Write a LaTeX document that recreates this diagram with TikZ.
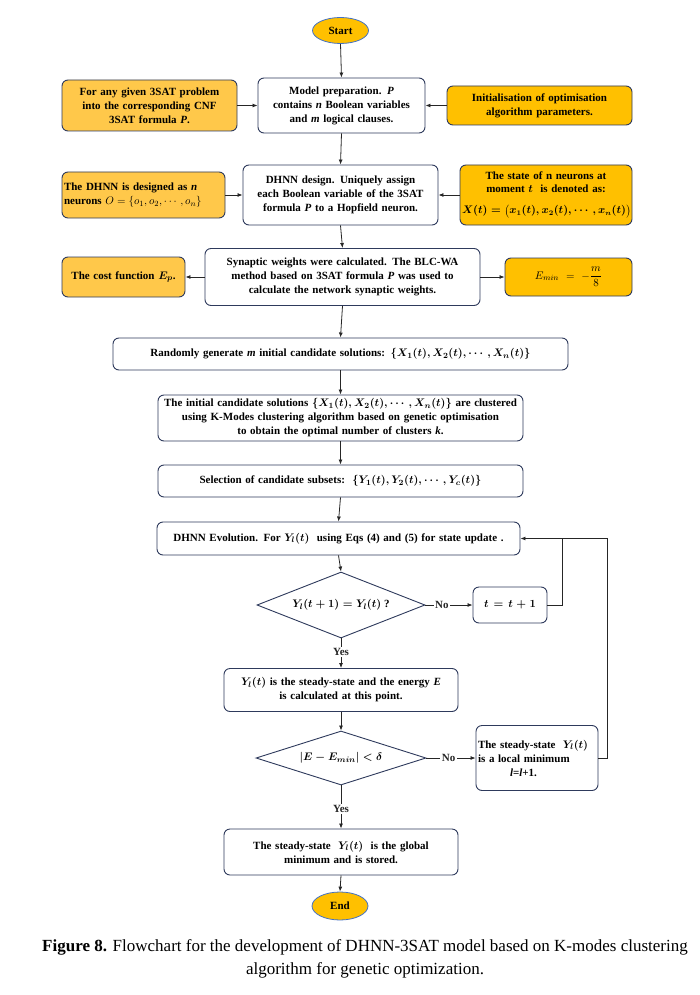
\documentclass[tikz,border=0pt]{standalone}
\usepackage{amsmath,bm}
\usepackage{fontspec}
\setmainfont{Liberation Serif}
\usetikzlibrary{shapes.geometric,arrows.meta}
\definecolor{navy}{HTML}{2E3A5C}
\definecolor{gold}{HTML}{FFC000}
\definecolor{orangeL}{HTML}{FFC84A}
\definecolor{blueL}{HTML}{4472C4}
\tikzset{
  base/.style={draw=navy, line width=0.9pt, rounded corners=6pt, align=center, inner sep=2pt,
    font=\fontsize{11}{14}\selectfont\bfseries\boldmath},
  plainmath/.style={font=\fontsize{11}{14}\selectfont\bfseries},
  wbox/.style={base, fill=white},
  obox/.style={base, fill=orangeL},
  gbox/.style={base, fill=gold},
  term/.style={ellipse, draw=blueL, line width=0.8pt, fill=gold, inner sep=0pt,
    font=\fontsize{11}{14}\selectfont\bfseries},
  dia/.style={diamond, draw=navy, line width=0.9pt, inner sep=0pt, fill=white,
    font=\fontsize{11}{14}\selectfont\bfseries\boldmath},
  arr/.style={-{Latex[length=5pt,width=4pt]}, line width=0.8pt, black!85},
  lnk/.style={line width=0.8pt, black!85},
  lab/.style={fill=white, inner sep=1.5pt, font=\fontsize{11}{14}\selectfont\bfseries}
}
\begin{document}
\begin{tikzpicture}[x=1pt,y=-1pt]
\useasboundingbox (0,0) rectangle (700,995);
% terminals
\node[term, minimum width=56pt, minimum height=26pt] (start) at (340.5,30.5) {Start};
% row 1
\node[wbox, text width=163pt, minimum height=55pt] (model) at (341.5,105.5)
  {Model preparation. \textit{P}\\ contains \textit{n} Boolean variables\\ and \textit{m} logical clauses.};
\node[obox, text width=171pt, minimum height=51pt] (for) at (149.5,105.5)
  {For any given 3SAT problem\\ into the corresponding CNF\\ 3SAT formula \textit{P}.};
\node[gbox, text width=181pt, minimum height=39pt] (init) at (539.5,105.5)
  {Initialisation of optimisation\\ algorithm parameters.};
% row 2
\node[wbox, text width=191pt, minimum height=60pt] (dhnn) at (340.5,195)
  {DHNN design. Uniquely assign\\ each Boolean variable of the 3SAT\\ formula \textit{P} to a Hopfield neuron.};
\node[obox, plainmath, text width=159pt, minimum height=46pt, align=left] (dleft) at (143.5,195)
  {The DHNN is designed as \textit{n}\\ neurons $O=\{o_1,o_2,\cdots,o_n\}$};
\node[gbox, text width=168pt, minimum height=60pt, inner ysep=1pt,
  font=\fontsize{11}{13}\selectfont\bfseries\boldmath] (dright) at (546,195)
  {The state of n neurons at\\ moment $t$\ \ is denoted as:\\[8pt]
   \mbox{\fontsize{10.5}{12}\selectfont$X(t)=\bigl(x_1(t),x_2(t),\cdots,x_n(t)\bigr)$}};
% row 3
\node[wbox, text width=271pt, minimum height=57pt] (syn) at (342.5,277)
  {Synaptic weights were calculated. The BLC-WA\\ method based on 3SAT formula \textit{P} was used to\\ calculate the network synaptic weights.};
\node[obox, text width=119pt, minimum height=40pt] (cost) at (123.5,277)
  {The cost function $E_p$.};
\node[gbox, plainmath, text width=123pt, minimum height=38pt] (emin) at (568.5,277)
  {$\displaystyle E_{min}=-\frac{m}{8}$};
% main column
\node[wbox, text width=451pt, minimum height=32pt] (rand) at (340.5,354)
  {Randomly generate \textit{m} initial candidate solutions: $\{X_1(t),X_2(t),\cdots,X_n(t)\}$};
\node[wbox, text width=361pt, minimum height=46pt] (icand) at (340.5,418)
  {The initial candidate solutions $\{X_1(t),X_2(t),\cdots,X_n(t)\}$ are clustered\\ using K-Modes clustering algorithm based on genetic optimisation\\ to obtain the optimal number of clusters \textit{k}.};
\node[wbox, text width=361pt, minimum height=32pt] (sel) at (340.5,481)
  {Selection of candidate subsets:\ \ $\{Y_1(t),Y_2(t),\cdots,Y_c(t)\}$};
\node[wbox, text width=359pt, minimum height=33pt] (evo) at (338.5,538.5)
  {DHNN Evolution. For $Y_l(t)$\ \ using Eqs (4) and (5) for state update .};
\node[dia, minimum width=168pt, minimum height=66pt, aspect=2.5] (d1) at (341,605)
  {$Y_l(t+1)=Y_l(t)$ ?};
\node[wbox, text width=70pt, minimum height=36pt] (tbox) at (510,605) {$t=t+1$};
\node[wbox, text width=230pt, minimum height=43pt] (ss) at (341,690)
  {$Y_l(t)$ is the steady-state and the energy \textit{E}\\ is calculated at this point.};
\node[dia, minimum width=170pt, minimum height=54pt, aspect=3.1] (d2) at (341,758)
  {$|E-E_{min}|<\delta$};
\node[wbox, text width=118pt, minimum height=65pt, align=left] (local) at (537,758)
  {The steady-state\ \ $Y_l(t)$\\ is a local minimum\\ \hspace*{32pt}\textit{l}=\textit{l}+1.};
\node[wbox, text width=230pt, minimum height=46pt] (glob) at (341,852)
  {The steady-state\ \ $Y_l(t)$\ \ is the global\\ minimum and is stored.};
\node[term, minimum width=56pt, minimum height=28pt] (end) at (340,906) {End};
% caption
\node[align=center, font=\fontsize{17}{23}\selectfont] (cap) at (365,958.5)
  {\textbf{Figure 8.} Flowchart for the development of DHNN-3SAT model based on K-modes clustering\\ algorithm for genetic optimization.};
% joints
\coordinate (j1) at (562,538.5);
\coordinate (j2) at (607,758);
% connectors
\draw[arr] (start.south) -- (model.north);
\draw[arr] (for.east) -- (model.west);
\draw[arr] (init.west) -- (model.east);
\draw[arr] (model.south) -- (dhnn.north);
\draw[arr] (dleft.east) -- (dhnn.west);
\draw[arr] (dright.west) -- (dhnn.east);
\draw[arr] (dhnn.south) -- (syn.north);
\draw[arr] (syn.west) -- (cost.east);
\draw[arr] (syn.east) -- (emin.west);
\draw[arr] (syn.south) -- (rand.north);
\draw[arr] (rand.south) -- (icand.north);
\draw[arr] (icand.south) -- (sel.north);
\draw[arr] (sel.south) -- (evo.north);
\draw[arr] (evo.south) -- (d1.north);
\draw[arr] (d1.east) -- node[lab, pos=0.35] {No} (tbox.west);
\draw[lnk] (tbox.east) -| (j1);
\draw[arr] (local.east) -- (j2) |- (evo.east);
\draw[arr] (d1.south) -- node[lab, pos=0.45] {Yes} (ss.north);
\draw[arr] (ss.south) -- (d2.north);
\draw[arr] (d2.east) -- node[lab, pos=0.45] {No} (local.west);
\draw[arr] (d2.south) -- node[lab, pos=0.55] {Yes} (glob.north);
\draw[arr] (glob.south) -- (end.north);
\end{tikzpicture}
\end{document}
